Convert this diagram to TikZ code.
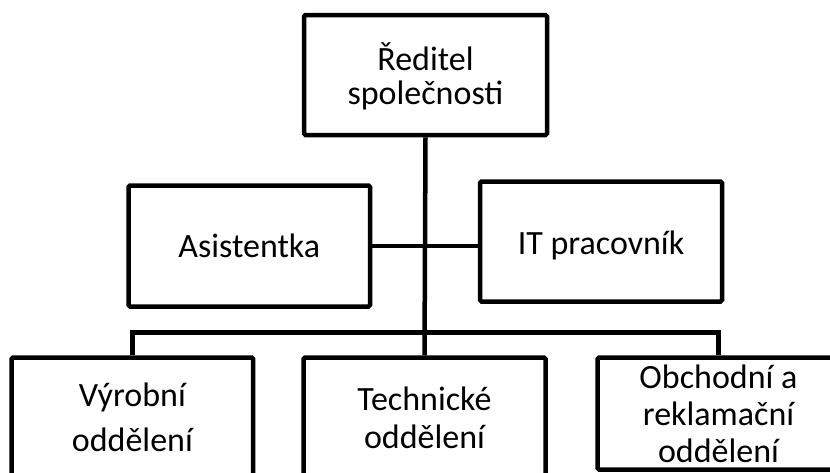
\documentclass[tikz,border=0pt]{standalone}
\usepackage{fontspec}
\setmainfont{Carlito}
\begin{document}
\begin{tikzpicture}[x=1pt,y=-1pt,
  orgbox/.style={draw=black, line width=4.5pt, rounded corners=1.5pt, fill=white,
    inner sep=0pt, align=center, minimum width=#1, minimum height=120pt,
    font=\fontsize{34}{37}\selectfont},
  link/.style={draw=black, line width=4.5pt}]
\useasboundingbox (0,0) rectangle (830,472);
\clip (0,0) rectangle (830,472);
\fill[white] (0,0) rectangle (830,472);
\node[orgbox=243pt, font=\fontsize{34}{36}\selectfont] (dir) at (425.5,75) {\raisebox{-2pt}[\height][\depth]{Ředitel}\\společnosti};
\node[orgbox=241.5pt, minimum height=121pt] (asis) at (249.25,246) {Asistentka};
\node[orgbox=242pt] (it) at (601,241.5) {\raisebox{-4pt}[\height][\depth]{IT pracovník}};
\node[orgbox=241.5pt, font=\fontsize{34}{45}\selectfont] (vyr) at (132.4,417.5) {Výrobní\\oddělení};
\node[orgbox=242pt, font=\fontsize{34}{38}\selectfont] (tech) at (424.5,417.5) {Technické\\oddělení};
\node[orgbox=242pt, minimum height=112pt, font=\fontsize{34}{37}\selectfont] (obch) at (718.5,413.5) {Obchodní a\\reklamační\\oddělení};
\coordinate (bus) at (424.5,332.5);
\draw[link] (dir.south) -- (tech.north);
\draw[link] (asis.east) -- (asis.east -| it.west);
\draw[link] (vyr.north) |- (bus) -| (obch.north);
\end{tikzpicture}
\end{document}
